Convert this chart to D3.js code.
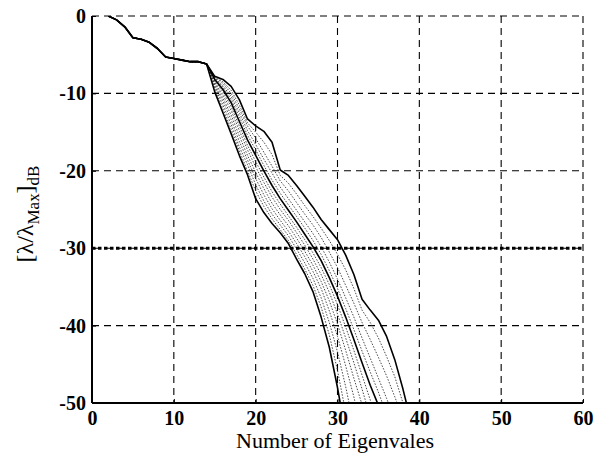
<!DOCTYPE html>
<html>
<head>
<meta charset="utf-8">
<script src="https://cdn.jsdelivr.net/npm/d3@7"></script>
<style>
  body { margin: 0; background: #fff; }
  svg { display: block; }
</style>
</head>
<body>
<div id="chart"></div>
<script>
// shared part of every curve (eigenvalue index 2..14)
var commonIdx = [2, 3, 4, 5, 6, 7, 8, 9, 10, 11, 12, 13, 14];
var commonVals = [0, -0.5, -1.4, -2.8, -3.0, -3.4, -4.2, -5.3, -5.5, -5.7, -5.9, -5.9, -6.2];

// tails start at eigenvalue 15
var tailStart = 15;
var tailL = [-9.8, -12.5, -15.2, -18.0, -20.5, -23.6, -25.4, -26.8, -28.0, -29.4, -31.4, -33.3, -35.6, -38.9, -42.8, -48.0, -54];
var tailC1 = [-9.5, -12.0, -14.6, -17.4, -20.0, -22.6, -24.6, -26.2, -27.6, -29.0, -30.8, -32.7, -34.8, -37.6, -41.2, -45.8, -51.2];
var tailC2 = [-9.2, -11.5, -14.0, -16.9, -19.2, -21.8, -23.9, -25.6, -27.0, -28.4, -30.1, -31.9, -33.9, -36.4, -39.6, -43.4, -47.9, -53];
var tailC3 = [-9.0, -11.0, -13.4, -16.2, -18.6, -21.0, -23.1, -24.9, -26.4, -27.8, -29.4, -31.1, -33.0, -35.2, -38.1, -41.4, -45.2, -49.2, -54];
var tailC4 = [-8.8, -10.6, -12.8, -15.5, -18.0, -20.2, -22.3, -24.2, -25.7, -27.1, -28.7, -30.4, -32.2, -34.3, -36.8, -39.8, -43.2, -46.8, -50.2];
var tailC5 = [-8.6, -10.2, -12.2, -14.8, -17.3, -19.5, -21.5, -23.4, -25.0, -26.4, -28.0, -29.6, -31.4, -33.4, -35.7, -38.5, -41.6, -44.8, -48.2, -51.8];
var tailC6 = [-8.4, -9.8, -11.7, -14.2, -16.7, -18.8, -20.8, -22.7, -24.3, -25.8, -27.3, -28.9, -30.6, -32.5, -34.7, -37.3, -40.2, -43.2, -46.4, -49.6, -53];
var tailC7 = [-8.2, -9.5, -11.2, -13.6, -16.0, -18.0, -20.0, -21.9, -23.6, -25.1, -26.6, -28.2, -29.8, -31.6, -33.8, -36.2, -38.9, -41.8, -44.8, -47.7, -50.3];
var tailC8 = [-8.1, -9.2, -10.8, -13.0, -15.4, -17.3, -19.3, -21.2, -22.9, -24.4, -25.9, -27.4, -29.0, -30.8, -32.9, -35.2, -37.8, -40.5, -43.3, -46.0, -48.6, -51.5];
var tailC9 = [-8.0, -9.0, -10.4, -12.5, -14.8, -16.6, -18.5, -20.3, -22.1, -23.6, -25.1, -26.6, -28.1, -29.8, -31.8, -34.0, -36.4, -38.9, -41.6, -44.2, -46.8, -49.4, -52.2];
var tailC10 = [-7.9, -8.7, -10.0, -12.0, -14.2, -15.8, -17.6, -19.4, -21.3, -22.6, -24.1, -25.6, -27.0, -28.6, -30.5, -32.5, -34.8, -37.1, -39.6, -41.8, -44.1, -46.5, -49.2, -52];
var tailC11 = [-7.8, -8.5, -9.6, -11.5, -13.8, -15.0, -16.3, -17.9, -20.6, -21.6, -23.0, -24.5, -25.9, -27.4, -29.0, -30.8, -32.8, -35.2, -38.0, -39.6, -41.6, -44.0, -46.6, -50.0, -53];
var tailU = [-7.8, -8.2, -9.1, -10.8, -13.3, -14.2, -14.9, -16.3, -19.9, -20.6, -21.9, -23.3, -24.7, -26.3, -27.6, -28.9, -30.9, -33.4, -36.6, -38.0, -39.3, -41.4, -44.4, -48.2, -52.5];

// draw order and line kind
var tails = [tailC1, tailC2, tailC3, tailC4, tailC5, tailC6, tailC8, tailC9, tailC10, tailC11, tailL, tailC7, tailU];
var solid = [false, false, false, false, false, false, false, false, false, false, true, true, true];

var threshold = -30;
var xTicks = [0, 10, 20, 30, 40, 50, 60];
var yTicks = [0, -10, -20, -30, -40, -50];

var svgWidth = 597, svgHeight = 454;
var margin = { top: 16, right: 14, bottom: 51, left: 92 };
var width = svgWidth - margin.left - margin.right;
var height = svgHeight - margin.top - margin.bottom;

var svg = d3.select("#chart").append("svg")
  .attr("width", svgWidth)
  .attr("height", svgHeight);

var g = svg.append("g")
  .attr("transform", `translate(${margin.left}, ${margin.top})`);

var x = d3.scaleLinear().domain([0, 60]).range([0, width]);
var y = d3.scaleLinear().domain([-50, 0]).range([height, 0]);

svg.append("defs").append("clipPath").attr("id", "clip")
  .append("rect").attr("width", width).attr("height", height + 1);

// grid
g.append("g").selectAll("line").data(xTicks.filter(d => d > 0))
  .join("line")
  .attr("x1", d => x(d)).attr("x2", d => x(d))
  .attr("y1", 0).attr("y2", height)
  .attr("stroke", "#000").attr("stroke-width", 1.1)
  .attr("stroke-dasharray", "7,5");
g.append("g").selectAll("line").data(yTicks.filter(d => d > -50))
  .join("line")
  .attr("x1", 0).attr("x2", width)
  .attr("y1", d => y(d)).attr("y2", d => y(d))
  .attr("stroke", "#000").attr("stroke-width", 1.1)
  .attr("stroke-dasharray", "7,5");

// curves
var line = d3.line().x(d => x(d[0])).y(d => y(d[1]));
var curves = tails.map(t => {
  var pts = commonIdx.map((n, i) => [n, commonVals[i]]);
  t.forEach((v, i) => pts.push([tailStart + i, v]));
  return pts;
});

var lines = g.append("g").attr("clip-path", "url(#clip)");
lines.selectAll("path").data(curves)
  .join("path")
  .attr("d", line)
  .attr("fill", "none")
  .attr("stroke", (d, i) => solid[i] ? "#000" : "#333")
  .attr("stroke-width", (d, i) => solid[i] ? 1.6 : 0.9)
  .attr("stroke-dasharray", (d, i) => solid[i] ? null : "1.5,1.5")
  .attr("stroke-linejoin", "round");

// threshold
g.append("line")
  .attr("x1", 0).attr("x2", width)
  .attr("y1", y(threshold)).attr("y2", y(threshold))
  .attr("stroke", "#000").attr("stroke-width", 3)
  .attr("stroke-dasharray", "3.5,2.5");

// axes
var xAxis = d3.axisBottom(x).tickValues(xTicks).tickSize(-4).tickPadding(8)
  .tickFormat(d => String(d));
var yAxis = d3.axisLeft(y).tickValues(yTicks).tickSize(-4).tickPadding(6)
  .tickFormat(d => String(d));

var gx = g.append("g").attr("transform", `translate(0, ${height})`).call(xAxis);
var gy = g.append("g").call(yAxis);
[gx, gy].forEach(a => {
  a.select(".domain").attr("stroke", "#000").attr("stroke-width", 2);
  a.selectAll(".tick line").attr("stroke", "#000");
  a.selectAll("text")
    .attr("fill", "#000")
    .style("font-family", "'Liberation Serif', 'Times New Roman', serif")
    .style("font-size", "20px")
    .style("font-weight", "bold");
});
gx.select(".domain").attr("d", `M0,0H${width}`);
gy.select(".domain").attr("d", `M0,0V${height}`);

// titles
svg.append("text")
  .attr("x", 335)
  .attr("y", 448)
  .attr("text-anchor", "middle")
  .style("font-family", "'Liberation Serif', 'Times New Roman', serif")
  .style("font-size", "22px")
  .text("Number of Eigenvales");

var yt = svg.append("text")
  .attr("transform", "translate(33, 214) rotate(-90)")
  .attr("text-anchor", "middle")
  .style("font-family", "'Liberation Serif', 'Times New Roman', serif")
  .style("font-size", "24px");
yt.append("tspan").text("[λ/λ");
yt.append("tspan").attr("dy", 6).style("font-size", "17px").text("Max");
yt.append("tspan").attr("dy", -6).text("]");
yt.append("tspan").attr("dy", 6).style("font-size", "17px").text("dB");
</script>
</body>
</html>
